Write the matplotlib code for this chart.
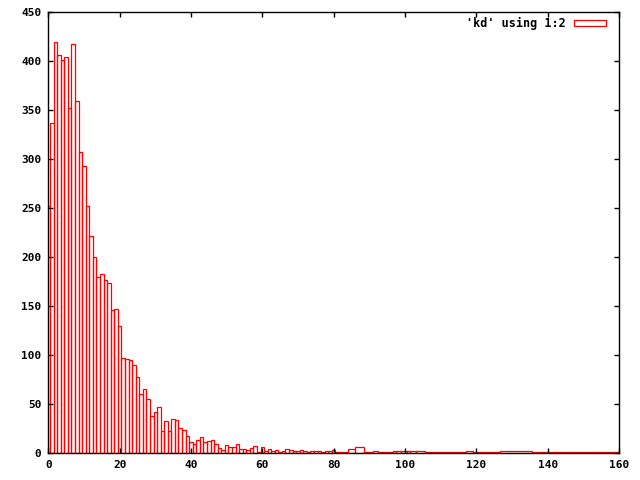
import numpy as np
import matplotlib
matplotlib.use("Agg")
import matplotlib.pyplot as plt
from matplotlib.patches import Rectangle

# histogram counts ('kd' using 1:2)
kd_x = [0, 1, 2, 3, 4, 5, 6, 7, 8, 9,
        10, 11, 12, 13, 14, 15, 16, 17, 18, 19,
        20, 21, 22, 23, 24, 25, 26, 27, 28, 29,
        30, 31, 32, 33, 34, 35, 36, 37, 38, 39,
        40, 41, 42, 43, 44, 45, 46, 47, 48, 49,
        50, 51, 52, 53, 54, 55, 56, 57, 58, 59,
        60, 61, 62, 63, 64, 65, 66, 67, 68, 69,
        70, 71, 72, 73, 74, 75, 76, 77, 78, 79,
        80, 81, 82, 83, 85, 87, 90, 92, 93, 94,
        95, 96, 97, 98, 100, 101, 102, 104, 107, 108,
        109, 110, 111, 112, 113, 114, 115, 116, 118, 120,
        121, 122, 131, 140, 145, 150, 155, 160]
kd_y = [252, 337, 420, 406, 401, 404, 352, 418, 360, 307,
        293, 252, 222, 200, 180, 183, 177, 174, 146, 147,
        130, 97, 96, 95, 90, 78, 61, 66, 55, 38,
        42, 47, 23, 33, 23, 35, 34, 26, 24, 18,
        12, 10, 14, 17, 12, 13, 14, 9, 5, 3,
        8, 6, 6, 9, 4, 4, 3, 5, 7, 1,
        6, 2, 4, 2, 3, 1, 2, 4, 3, 2,
        2, 3, 2, 1, 2, 2, 2, 1, 2, 2,
        3, 1, 1, 1, 4, 6, 1, 2, 1, 1,
        1, 1, 2, 2, 2, 2, 2, 2, 1, 1,
        1, 1, 1, 1, 1, 1, 1, 1, 2, 1,
        1, 1, 2, 1, 1, 1, 1, 1]

x_ticks = [0, 20, 40, 60, 80, 100, 120, 140, 160]
y_ticks = [0, 50, 100, 150, 200, 250, 300, 350, 400, 450]
key_label = "'kd' using 1:2"

# gnuplot-style boxes: each box reaches halfway to its neighbours
x = np.array(kd_x, dtype=float)
mid = (x[1:] + x[:-1]) / 2
left = np.concatenate([[x[0] - (x[1] - x[0]) / 2], mid])
right = np.concatenate([mid, [x[-1] + (x[-1] - x[-2]) / 2]])

fig = plt.figure(figsize=(6.4, 4.8), dpi=100)
ax = fig.add_axes([48.3 / 640, 26.7 / 480, (619 - 48.3) / 640, (453.3 - 12.3) / 480])

ax.bar(left, kd_y, width=right - left, align='edge', fill=False,
       edgecolor='#ff0000', linewidth=0.9)

ax.set_xlim(0, 160)
ax.set_ylim(0, 450)
ax.set_xticks(x_ticks)
ax.set_yticks(y_ticks)
for s in ax.spines.values():
    s.set_linewidth(1.0)
    s.set_color('black')
ax.tick_params(direction='in', length=3.5, width=1.0, top=True, right=True,
               pad=5, labelsize=8)
for lab in ax.get_xticklabels() + ax.get_yticklabels():
    lab.set_fontfamily('DejaVu Sans Mono')
    lab.set_fontweight('bold')

# key in the top right corner
fig.text(566 / 640, 1 - 23.5 / 480, key_label, ha='right', va='center',
         family='DejaVu Sans Mono', fontweight='bold', fontsize=8.5)
fig.patches.append(Rectangle((573.5 / 640, 1 - 26 / 480), 32 / 640, 5.5 / 480,
                             transform=fig.transFigure, fill=False,
                             edgecolor='#ff0000', linewidth=0.9))

fig.savefig('out.png', dpi=100)
